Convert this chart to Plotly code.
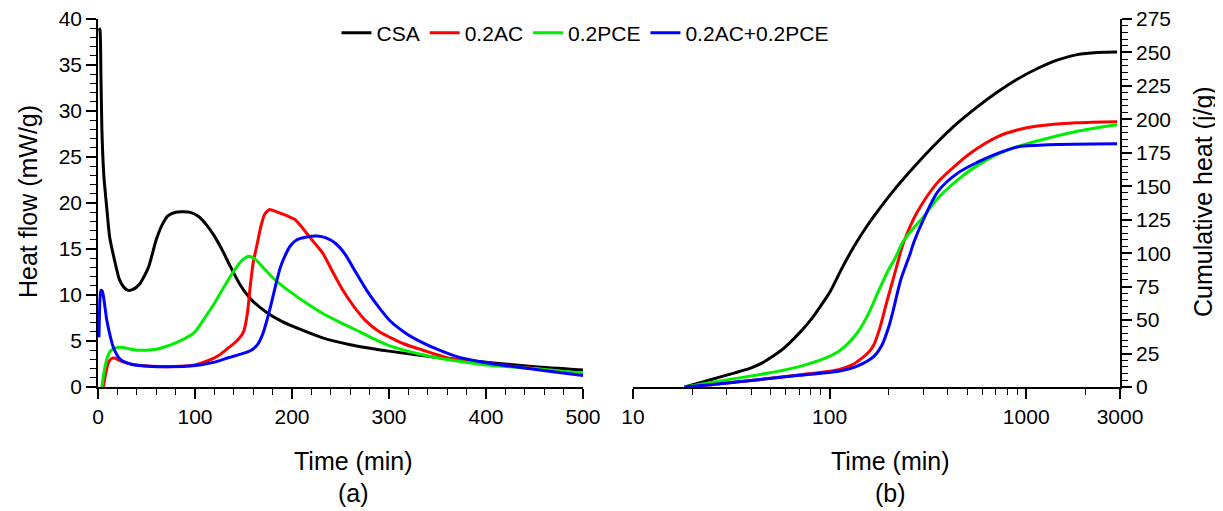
import plotly.graph_objects as go
import numpy as np

# ---------------- data: heat flow (panel a) ----------------
series_names = ["CSA", "0.2AC", "0.2PCE", "0.2AC+0.2PCE"]
series_colors = ["#000000", "#ff0000", "#00ee00", "#0000ff"]

csa_t = [1, 2, 3, 4, 6, 9, 12, 17, 22, 27, 31, 36, 43, 52, 60, 66, 72, 80, 88, 96,
         104, 112, 120, 128, 136, 146, 158, 174, 190, 210, 230, 260, 300, 350, 400, 450, 500]
csa_q = [39, 38.8, 34, 28, 23, 19.5, 16.3, 13.8, 11.7, 10.8, 10.5, 10.6, 11.2, 13.0, 16.0, 17.6,
         18.6, 19.0, 19.05, 18.95, 18.5, 17.6, 16.4, 14.9, 13.2, 11.2, 9.5, 8.1, 7.1, 6.2, 5.4,
         4.6, 3.9, 3.2, 2.7, 2.2, 1.85]

ac_t = [5.5, 8, 11, 14, 17, 22, 30, 40, 55, 70, 85, 100, 112, 124, 135, 143, 150, 154, 157, 160,
        164, 168, 172, 177, 185, 195, 203, 210, 216, 222, 232, 242, 252, 262, 267, 275, 290, 301,
        315, 335, 363, 400, 450, 500]
ac_q = [0, 1.5, 2.7, 3.1, 3.15, 2.9, 2.6, 2.4, 2.25, 2.2, 2.25, 2.4, 2.8, 3.4, 4.3, 5.0, 6.0, 8.0,
        11.0, 13.5, 15.5, 17.5, 18.8, 19.3, 19.0, 18.6, 18.2, 17.4, 16.6, 15.8, 14.5, 12.5, 10.6,
        9.0, 8.3, 7.3, 6.0, 5.4, 4.7, 4.0, 3.1, 2.6, 2.0, 1.4]

pce_t = [4, 6, 9, 12, 15, 18, 25, 32, 40, 50, 60, 70, 80, 90, 100, 110, 120, 130, 140, 148, 155,
         162, 170, 180, 190, 200, 215, 230, 250, 270, 285, 300, 335, 365, 400, 450, 500]
pce_q = [0, 1.5, 3.0, 3.8, 4.1, 4.25, 4.3, 4.15, 4.0, 4.0, 4.1, 4.4, 4.8, 5.3, 6.0, 7.5, 9.1, 10.9,
         12.6, 13.7, 14.2, 13.9, 13.0, 11.9, 11.0, 10.2, 9.1, 8.1, 7.0, 6.0, 5.2, 4.5, 3.5, 2.9,
         2.4, 2.0, 1.5]

mix_t = [1, 2, 3, 4.5, 6, 9, 12, 15.5, 19, 23, 28, 35, 45, 60, 75, 90, 105, 120, 135, 148, 158,
         165, 170, 174, 178, 183, 188, 193, 198, 205, 215, 226, 235, 245, 255, 265, 277, 290, 301,
         318, 335, 352, 370, 397, 430, 465, 500]
mix_q = [5.4, 9.5, 10.5, 10.4, 9.6, 7.3, 5.8, 4.4, 3.6, 3.0, 2.7, 2.45, 2.3, 2.2, 2.2, 2.25, 2.4,
         2.7, 3.2, 3.6, 4.0, 4.7, 5.8, 7.2, 8.8, 11.0, 13.0, 14.3, 15.3, 16.0, 16.3, 16.4, 16.2,
         15.6, 14.4, 12.6, 10.5, 8.6, 7.2, 5.8, 4.8, 4.0, 3.3, 2.7, 2.2, 1.7, 1.25]

# ---------------- data: cumulative heat (panel b) ----------------
csa_ct = [18.3, 22, 27.3, 33, 39.6, 45, 50, 58, 69.3, 80, 90, 100.7, 116, 134, 155, 176, 210,
          281, 350, 448, 560, 714, 900, 1140, 1450, 1816, 2300, 2900]
csa_cq = [0, 3.2, 7.2, 10.6, 14.1, 17.6, 21.8, 28.5, 39.5, 50, 60.5, 71.4, 89.2, 105.8, 120.3,
          131.6, 146.2, 167.5, 182.3, 197.3, 209, 220.4, 230, 238, 244.5, 248.4, 250, 250.3]

ac_ct = [18.3, 27, 43.5, 70, 111, 130, 146, 158, 168, 180, 194, 210, 222, 233, 250, 281, 350,
         448, 560, 714, 900, 1140, 1800, 2900]
ac_cq = [0, 2.2, 5.5, 9, 12.9, 16.5, 21.6, 26, 31.6, 44, 62, 80, 93, 104, 116, 131.5, 152, 167,
         178, 187, 192, 195, 197.5, 198.3]

pce_ct = [18.3, 27, 43.6, 60, 76, 95, 111, 125, 140, 158, 177, 200, 215, 235, 268, 300, 355, 450,
          571, 800, 1150, 1800, 2900]
pce_cq = [0, 4.2, 9.2, 13, 16.7, 21.5, 26.6, 33, 41.5, 55, 71.4, 88, 96, 108, 119, 127, 141, 155,
          166, 177, 184, 191, 196]

mix_ct = [18.3, 27, 43.5, 70, 111, 140, 168, 185, 200, 212, 230, 256, 268, 300, 355, 450, 566,
          700, 902, 1300, 2900]
mix_cq = [0, 2.2, 5.5, 8.7, 11.7, 16, 22.9, 31.6, 45, 59, 80, 99, 108, 125, 146, 160, 168, 174,
          179.4, 181, 181.7]

flow_t = [csa_t, ac_t, pce_t, mix_t]
flow_q = [csa_q, ac_q, pce_q, mix_q]
cum_t = [csa_ct, ac_ct, pce_ct, mix_ct]
cum_q = [csa_cq, ac_cq, pce_cq, mix_cq]

x_log_ticks = [10, 100, 1000, 3000]
x_log_minor = [20, 30, 40, 50, 60, 70, 80, 90, 200, 300, 400, 500, 600, 700, 800, 900, 2000]

FONT = "Arial, Liberation Sans, sans-serif"
# the page body adds an 8px offset; the figure is sized so the page fits the window
OFF = 8
W, H = 1223 - OFF, 511 - OFF


def px(x):
    return (x - OFF) / W


def py(y):
    return (H - (y - OFF)) / H


fig = go.Figure()
for name, col, t, q in zip(series_names, series_colors, flow_t, flow_q):
    fig.add_trace(go.Scatter(x=t, y=q, mode="lines", name=name,
                             line=dict(color=col, width=3, shape="spline", smoothing=0.6),
                             xaxis="x", yaxis="y"))
for name, col, t, q in zip(series_names, series_colors, cum_t, cum_q):
    fig.add_trace(go.Scatter(x=t, y=q, mode="lines", name=name, showlegend=False,
                             line=dict(color=col, width=3, shape="spline", smoothing=0.8),
                             xaxis="x2", yaxis="y2"))

axis_common = dict(showline=True, linecolor="black", linewidth=1.6, ticks="outside",
                   ticklen=10, tickwidth=1.6, tickcolor="black", showgrid=False, zeroline=False,
                   automargin=False, ticklabeloverflow="allow",
                   tickfont=dict(family=FONT, size=21, color="black"))
minor_common = dict(ticks="outside", ticklen=6, tickwidth=1.4, tickcolor="black", showgrid=False)

ydom = [py(387), py(19)]

fig.update_layout(
    width=W, height=H,
    margin=dict(l=0, r=0, t=0, b=0, autoexpand=False),
    paper_bgcolor="white", plot_bgcolor="white",
    font=dict(family=FONT, color="black"),
    showlegend=True,
    legend=dict(orientation="h", x=px(585), xanchor="center", y=py(33), yanchor="middle",
                font=dict(family=FONT, size=21, color="black"), bgcolor="rgba(0,0,0,0)",
                itemwidth=30, tracegroupgap=0),
    xaxis=dict(domain=[px(98), px(583)], range=[0, 500], dtick=100, anchor="y",
               minor=dict(dtick=20, **minor_common), **axis_common),
    yaxis=dict(domain=ydom, range=[0, 40], dtick=5, anchor="x",
               minor=dict(dtick=1, **minor_common), **axis_common),
    xaxis2=dict(domain=[px(633), px(1120)], type="log", range=[1, np.log10(3000)],
                tickmode="array", tickvals=x_log_ticks, ticktext=[str(v) for v in x_log_ticks],
                anchor="y2", minor=dict(tickmode="array", tickvals=x_log_minor, **minor_common),
                **axis_common),
    yaxis2=dict(domain=ydom, range=[0, 275], dtick=25, anchor="x2", side="right",
                minor=dict(dtick=5, **minor_common), **axis_common),
)

ann_font = dict(family=FONT, size=25, color="black")
annots = [
    dict(text="Heat flow (mW/g)", x=px(28), y=py(202), textangle=-90),
    dict(text="Cumulative heat (j/g)", x=px(1203), y=py(202), textangle=-90),
    dict(text="Time (min)", x=px(353), y=py(461)),
    dict(text="(a)", x=px(353), y=py(493)),
    dict(text="Time (min)", x=px(890), y=py(461)),
    dict(text="(b)", x=px(890), y=py(493)),
]
for a in annots:
    fig.add_annotation(xref="paper", yref="paper", showarrow=False, xanchor="center",
                       yanchor="middle", font=ann_font, **a)

fig.write_html("out.html")
